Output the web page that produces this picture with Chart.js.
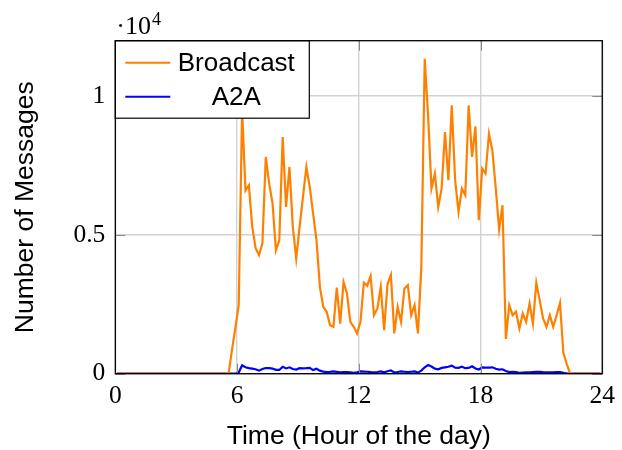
<!DOCTYPE html>
<html>
<head>
<meta charset="utf-8">
<script src="https://cdn.jsdelivr.net/npm/chart.js@4.4.1/dist/chart.umd.min.js"></script>
<style>
  html, body { margin: 0; padding: 0; background: #ffffff; }
  #wrap { width: 622px; height: 450px; }
</style>
</head>
<body>
<div id="wrap"><canvas id="c" width="622" height="450"></canvas></div>
<script>
// Messages per 10-minute slot over one day; one row per hour (6 slots each).
const broadcast = [
  0, 0, 0, 0, 0, 0,
  0, 0, 0, 0, 0, 0,
  0, 0, 0, 0, 0, 0,
  0, 0, 0, 0, 0, 0,
  0, 0, 0, 0, 0, 0,
  0, 0, 0, 0, 850, 1650,
  2470, 9500, 6600, 6790, 5290, 4520,
  4270, 4700, 7810, 6860, 6140, 4450,
  4810, 8530, 6010, 7450, 5290, 4150,
  5290, 6370, 7450, 6730, 5770, 4810,
  3130, 2410, 2230, 1750, 1690, 3100,
  1800, 3300, 2900, 1870, 1690, 1450,
  1870, 3280, 3170, 3520, 2110, 2350,
  3130, 1570, 3230, 3560, 1450, 2410,
  1870, 3070, 3190, 2110, 2470, 1450,
  3850, 11350, 9300, 6670, 7210, 6010,
  6670, 8710, 6970, 9670, 6970, 5830,
  6670, 6430, 9670, 7810, 8910, 5530,
  7390, 7210, 8650, 8050, 6700, 5200,
  6070, 1250, 2470, 2110, 2230, 1630,
  2170, 1870, 2530, 1810, 3280, 2650,
  1990, 1690, 2110, 1690, 2100, 2550,
  750, 350, 0, 0, 0, 0,
  0, 0, 0, 0, 0, 0
];

const a2a = [
  0, 0, 0, 0, 0, 0,
  0, 0, 0, 0, 0, 0,
  0, 0, 0, 0, 0, 0,
  0, 0, 0, 0, 0, 0,
  0, 0, 0, 0, 0, 0,
  0, 0, 0, 0, 0, 0,
  40, 300, 230, 200, 180, 160,
  110, 170, 205, 200, 185, 140,
  135, 250, 190, 230, 170, 150,
  200, 195, 200, 210, 130, 180,
  110, 75, 60, 65, 80, 65,
  45, 55, 60, 50, 35, 50,
  80, 75, 70, 55, 45, 60,
  80, 50, 90, 115, 45, 60,
  80, 70, 60, 70, 80, 40,
  110, 230, 310, 260, 180, 160,
  210, 230, 250, 290, 220, 210,
  250, 200, 210, 270, 190, 150,
  230, 220, 220, 230, 180, 150,
  160, 100, 60, 70, 55, 35,
  40, 45, 50, 60, 65, 70,
  55, 45, 45, 45, 55, 60,
  30, 10, 0, 0, 0, 0,
  0, 0, 0, 0, 0, 0
];

// Centre of each 10-minute slot, in hours.
const slotHours = [];
for (let k = 0; k < broadcast.length; k++) slotHours.push((k + 0.5) / 6);

const xTickValues = [0, 6, 12, 18, 24];
const yTickValues = [0, 5000, 10000];
const yTickLabels = ['0', '0.5', '1'];
const seriesNames = ['Broadcast', 'A2A'];
const seriesColors = ['rgb(255,128,0)', 'rgb(0,0,255)'];
const xTitle = 'Time (Hour of the day)';
const yTitle = 'Number of Messages';

const SANS = '"Liberation Sans", Arial, Helvetica, sans-serif';
const SERIF = '"Liberation Serif", "Times New Roman", serif';

function toPoints(values) {
  return values.map((v, i) => ({ x: slotHours[i], y: v }));
}

// Frame, inward ticks, legend box, axis titles and the ·10^4 multiplier.
const decorations = {
  id: 'decorations',
  afterDatasetsDraw(chart) {
    const { ctx, chartArea: a, scales } = chart;
    const xs = scales.x, ys = scales.y;
    ctx.save();

    // inward tick marks on all four sides
    ctx.strokeStyle = '#8a8a8a';
    ctx.lineWidth = 1;
    const tl = 10;
    ctx.beginPath();
    xTickValues.forEach(v => {
      const px = Math.round(xs.getPixelForValue(v)) + 0.5;
      ctx.moveTo(px, a.bottom); ctx.lineTo(px, a.bottom - tl);
      ctx.moveTo(px, a.top); ctx.lineTo(px, a.top + tl);
    });
    yTickValues.forEach(v => {
      const py = Math.round(ys.getPixelForValue(v)) + 0.5;
      ctx.moveTo(a.left, py); ctx.lineTo(a.left + tl, py);
      ctx.moveTo(a.right, py); ctx.lineTo(a.right - tl, py);
    });
    ctx.stroke();

    // legend box in the upper-left corner of the plot
    const lx = a.left, ly = a.top, lw = 194, lh = 77.5;
    ctx.fillStyle = '#ffffff';
    ctx.fillRect(lx, ly, lw, lh);
    ctx.strokeStyle = '#000000';
    ctx.lineWidth = 1.2;
    ctx.strokeRect(lx, ly, lw, lh);
    ctx.font = '26px ' + SANS;
    ctx.textAlign = 'center';
    ctx.textBaseline = 'middle';
    seriesNames.forEach((name, i) => {
      const rowY = ly + 22 + i * 34;
      ctx.strokeStyle = seriesColors[i];
      ctx.lineWidth = 2;
      ctx.beginPath();
      ctx.moveTo(lx + 10, rowY); ctx.lineTo(lx + 55, rowY);
      ctx.stroke();
      ctx.fillStyle = '#000000';
      ctx.fillText(name, lx + 121, rowY + 1);
    });

    // plot frame
    ctx.strokeStyle = '#000000';
    ctx.lineWidth = 1.3;
    ctx.strokeRect(a.left, a.top, a.right - a.left, a.bottom - a.top);

    // axis titles
    ctx.fillStyle = '#000000';
    ctx.font = '26.5px ' + SANS;
    ctx.textAlign = 'center';
    ctx.textBaseline = 'middle';
    ctx.fillText(xTitle, (a.left + a.right) / 2, 437);
    ctx.save();
    ctx.translate(26, (a.top + a.bottom) / 2);
    ctx.rotate(-Math.PI / 2);
    ctx.fillText(yTitle, 0, 0);
    ctx.restore();

    // scale multiplier above the y axis
    ctx.textAlign = 'left';
    ctx.textBaseline = 'alphabetic';
    ctx.font = '26px ' + SERIF;
    const base = '\u00B710';
    ctx.fillText(base, a.left + 1, 34);
    const w = ctx.measureText(base).width;
    ctx.font = '18px ' + SERIF;
    ctx.fillText('4', a.left + 1 + w + 1, 24.5);

    ctx.restore();
  }
};

new Chart(document.getElementById('c'), {
  type: 'line',
  data: {
    datasets: [
      {
        label: seriesNames[0],
        data: toPoints(broadcast),
        borderColor: seriesColors[0],
        borderWidth: 2.2,
        pointRadius: 0,
        tension: 0,
        fill: false
      },
      {
        label: seriesNames[1],
        data: toPoints(a2a),
        borderColor: seriesColors[1],
        borderWidth: 2.2,
        pointRadius: 0,
        tension: 0,
        fill: false
      }
    ]
  },
  options: {
    responsive: false,
    animation: false,
    devicePixelRatio: 1,
    layout: { padding: { left: 0, top: 40.7, right: 14.7, bottom: 0 } },
    plugins: { legend: { display: false }, tooltip: { enabled: false }, title: { display: false } },
    scales: {
      x: {
        type: 'linear',
        min: 0,
        max: 24,
        afterFit(scale) { scale.height = 76.3; },
        afterBuildTicks(scale) { scale.ticks = xTickValues.map(v => ({ value: v })); },
        grid: { color: '#d2d2d2', lineWidth: 1.4, drawTicks: false },
        border: { display: false },
        ticks: {
          color: '#000000',
          font: { family: SERIF, size: 25.5 },
          padding: 7,
          maxRotation: 0,
          autoSkip: false
        }
      },
      y: {
        type: 'linear',
        min: 0,
        max: 12000,
        afterFit(scale) { scale.width = 115.3; },
        afterBuildTicks(scale) { scale.ticks = yTickValues.map(v => ({ value: v })); },
        grid: { color: '#d2d2d2', lineWidth: 1.4, drawTicks: false },
        border: { display: false },
        ticks: {
          color: '#000000',
          font: { family: SERIF, size: 25.5 },
          padding: 10,
          autoSkip: false,
          callback: (value) => {
            const i = yTickValues.indexOf(value);
            return i >= 0 ? yTickLabels[i] : '';
          }
        }
      }
    }
  },
  plugins: [decorations]
});
</script>
</body>
</html>
